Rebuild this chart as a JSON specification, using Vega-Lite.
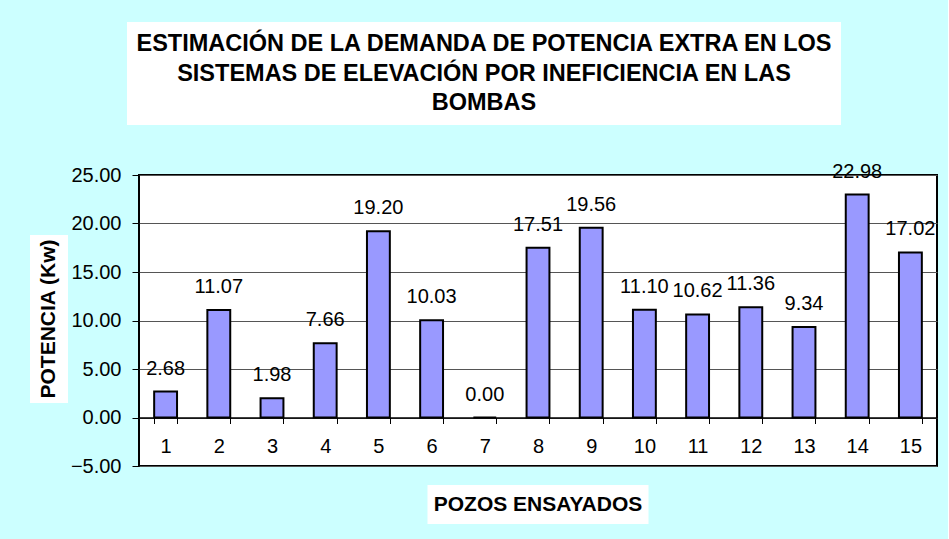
{
  "$schema": "https://vega.github.io/schema/vega-lite/v6.json",
  "background": "#CCFFFF",
  "padding": {"left": 30, "top": 22, "right": 10, "bottom": 16},
  "config": {"font": "Liberation Sans", "view": {"stroke": null}},
  "datasets": {
    "pozos": [
      {"pozo": 1, "potencia": 2.68},
      {"pozo": 2, "potencia": 11.07},
      {"pozo": 3, "potencia": 1.98},
      {"pozo": 4, "potencia": 7.66},
      {"pozo": 5, "potencia": 19.20},
      {"pozo": 6, "potencia": 10.03},
      {"pozo": 7, "potencia": 0.00},
      {"pozo": 8, "potencia": 17.51},
      {"pozo": 9, "potencia": 19.56},
      {"pozo": 10, "potencia": 11.10},
      {"pozo": 11, "potencia": 10.62},
      {"pozo": 12, "potencia": 11.36},
      {"pozo": 13, "potencia": 9.34},
      {"pozo": 14, "potencia": 22.98},
      {"pozo": 15, "potencia": 17.02}
    ],
    "titulo": [
      {"linea": 1, "texto": "ESTIMACIÓN DE LA DEMANDA  DE POTENCIA EXTRA EN LOS"},
      {"linea": 2, "texto": "SISTEMAS DE ELEVACIÓN POR INEFICIENCIA EN LAS"},
      {"linea": 3, "texto": "BOMBAS"}
    ],
    "ytitulo": [{"texto": "POTENCIA (Kw)"}],
    "xtitulo": [{"texto": "POZOS ENSAYADOS"}]
  },
  "vconcat": [
    {
      "width": 714,
      "height": 103,
      "view": {"fill": "white", "stroke": null},
      "data": {"name": "titulo"},
      "mark": {"type": "text", "fontWeight": "bold", "fontSize": 23.5, "align": "center", "baseline": "middle", "color": "black"},
      "encoding": {
        "x": {"datum": "centro", "type": "nominal", "axis": null},
        "y": {"field": "linea", "type": "ordinal", "scale": {"type": "point", "padding": 0.745}, "axis": null},
        "text": {"field": "texto", "type": "nominal"}
      }
    },
    {
      "spacing": 1,
      "hconcat": [
        {
          "spacing": 0,
          "vconcat": [
            {
              "width": 38,
              "height": 60,
              "data": {"values": [{}]},
              "mark": {"type": "text", "text": ""}
            },
            {
              "width": 38,
              "height": 168,
              "view": {"fill": "white", "stroke": null},
              "data": {"name": "ytitulo"},
              "mark": {"type": "text", "angle": 270, "fontWeight": "bold", "fontSize": 21, "align": "center", "baseline": "middle", "color": "black"},
              "encoding": {
                "x": {"datum": "centro", "type": "nominal", "axis": null},
                "y": {"datum": "centro", "type": "nominal", "axis": null},
                "text": {"field": "texto", "type": "nominal"}
              }
            }
          ]
        },
        {
          "spacing": 19,
          "center": true,
          "bounds": "flush",
          "vconcat": [
            {
              "width": 798,
              "height": 291,
              "view": {"fill": "white", "stroke": "black", "strokeWidth": 2},
              "data": {"name": "pozos"},
              "encoding": {
                "x": {
                  "field": "pozo",
                  "type": "ordinal",
                  "scale": {"paddingInner": 0.57, "paddingOuter": 0.285},
                  "axis": {
                    "title": null,
                    "orient": "bottom",
                    "offset": -48.5,
                    "labelAngle": 0,
                    "labelFontSize": 20,
                    "labelColor": "black",
                    "labelPadding": 13,
                    "tickBand": "extent",
                    "tickSize": 6,
                    "tickColor": "black",
                    "domainColor": "black",
                    "domainWidth": 1.5,
                    "grid": false
                  }
                },
                "y": {
                  "field": "potencia",
                  "type": "quantitative",
                  "scale": {"domain": [-5, 25], "nice": false, "zero": false},
                  "axis": {
                    "title": null,
                    "values": [-5, 0, 5, 10, 15, 20, 25],
                    "format": ".2f",
                    "labelFontSize": 20,
                    "labelColor": "black",
                    "labelPadding": 11,
                    "tickSize": 7,
                    "tickColor": "black",
                    "domain": false,
                    "grid": true,
                    "gridColor": "#555555",
                    "gridWidth": 1
                  }
                }
              },
              "layer": [
                {"mark": {"type": "bar", "fill": "#9999FF", "stroke": "black", "strokeWidth": 2}},
                {
                  "mark": {"type": "text", "fontSize": 20, "baseline": "alphabetic", "dy": -17, "color": "black"},
                  "encoding": {"text": {"field": "potencia", "type": "quantitative", "format": ".2f"}}
                }
              ]
            },
            {
              "width": 221,
              "height": 39,
              "view": {"fill": "white", "stroke": null},
              "data": {"name": "xtitulo"},
              "mark": {"type": "text", "fontWeight": "bold", "fontSize": 21, "align": "center", "baseline": "middle", "color": "black"},
              "encoding": {
                "x": {"datum": "centro", "type": "nominal", "axis": null},
                "y": {"datum": "centro", "type": "nominal", "axis": null},
                "text": {"field": "texto", "type": "nominal"}
              }
            }
          ]
        }
      ]
    }
  ],
  "spacing": 35,
  "center": true
}
